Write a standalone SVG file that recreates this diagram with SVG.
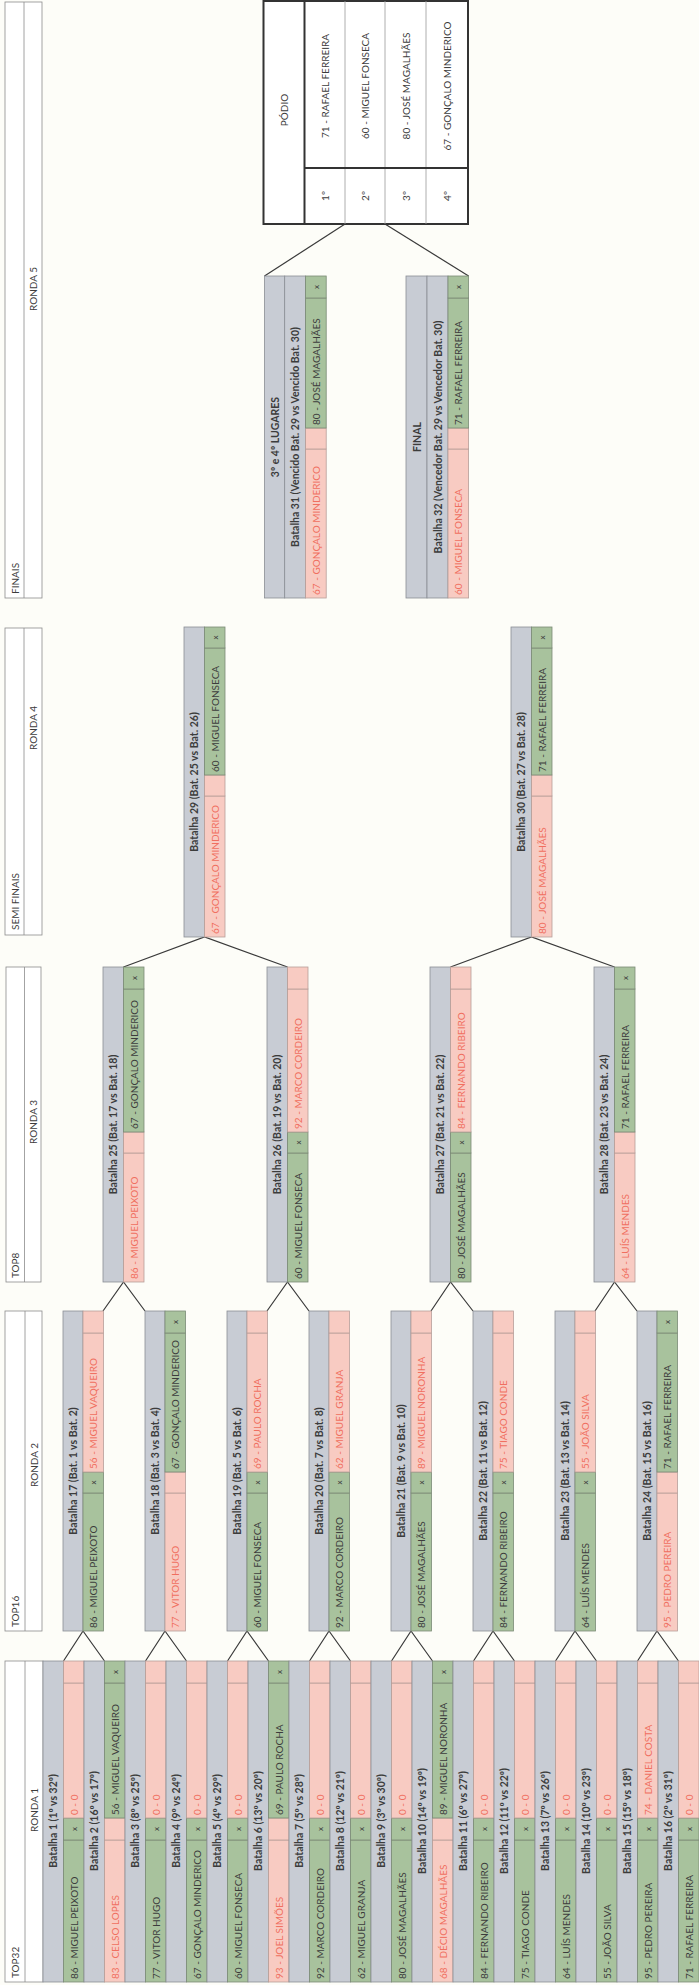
<svg xmlns="http://www.w3.org/2000/svg" width="699" height="1985" viewBox="0 0 699 1985">
<style>
.g{fill:#c8ccd4;stroke:#8a8e95;stroke-width:.8}
.w{fill:#a8c29d;stroke:#7b8b76;stroke-width:.8}
.l{fill:#f8cbc2;stroke:#b79e99;stroke-width:.8}
.h{fill:#fff;stroke:#8c8c8c;stroke-width:.8}
text{font-family:Lato,"Open Sans","Liberation Sans",sans-serif;dominant-baseline:central}
.t{font-size:10.5px;font-weight:bold;fill:#3c3c3c;text-anchor:middle}
.n{font-size:10px;fill:#3c3c3c}
.nl{font-size:10px;fill:#f06f5f}
.x{font-size:8px;fill:#3c3c3c;text-anchor:middle}
.hd{font-size:10px;fill:#3c3c3c}
.hm{font-size:10px;fill:#3c3c3c;text-anchor:middle}
.c{fill:none;stroke:#3a3a3a;stroke-width:1.2}
.pb{fill:#fff;stroke:#333;stroke-width:2}
.pt{stroke:#333;stroke-width:2}
.pf{stroke:#999;stroke-width:.8}
.pn{font-size:10px;fill:#3c3c3c;text-anchor:middle}
</style>
<rect x="0" y="0" width="699" height="1985" fill="#fdfdf8"/>

<g id="connectors">
<path class="c" d="M63.5 1661L83 1631L104.5 1661"/>
<path class="c" d="M145.5 1661L165 1631L186.5 1661"/>
<path class="c" d="M227.5 1661L247 1631L268.5 1661"/>
<path class="c" d="M309.5 1661L329 1631L350.5 1661"/>
<path class="c" d="M391.5 1661L411 1631L432.5 1661"/>
<path class="c" d="M473.5 1661L493 1631L514.5 1661"/>
<path class="c" d="M555.5 1661L575 1631L596.5 1661"/>
<path class="c" d="M637.5 1661L657 1631L678.5 1661"/>
<path class="c" d="M103 1311L123.5 1282L145 1311"/>
<path class="c" d="M267 1311L287.5 1282L309 1311"/>
<path class="c" d="M431 1311L450.5 1282L473 1311"/>
<path class="c" d="M595 1311L614.5 1282L637 1311"/>
<path class="c" d="M123.5 967L204.5 937L287.5 967"/>
<path class="c" d="M450.5 967L531.5 937L614.5 967"/>
<path class="c" d="M264.5 276L345 224"/>
<path class="c" d="M385 224L468.6 276"/>
</g>

<g id="hdr-r1">
<rect class="h" x="5" y="1661" width="38" height="321"/>
<line class="h" x1="25" y1="1661" x2="25" y2="1982"/>
<text class="hd" transform="translate(15 1978) rotate(-90)">TOP32</text>
<text class="hm" transform="translate(34 1810) rotate(-90)">RONDA 1</text>
</g>
<g id="hdr-r2">
<rect class="h" x="5" y="1311" width="37" height="320"/>
<line class="h" x1="25" y1="1311" x2="25" y2="1631"/>
<text class="hd" transform="translate(15 1627) rotate(-90)">TOP16</text>
<text class="hm" transform="translate(33.5 1465) rotate(-90)">RONDA 2</text>
</g>
<g id="hdr-r3">
<rect class="h" x="6" y="967" width="35" height="315"/>
<line class="h" x1="24.5" y1="967" x2="24.5" y2="1282"/>
<text class="hd" transform="translate(15.25 1278) rotate(-90)">TOP8</text>
<text class="hm" transform="translate(32.75 1122) rotate(-90)">RONDA 3</text>
</g>
<g id="hdr-r4">
<rect class="h" x="5" y="628" width="37" height="307"/>
<line class="h" x1="24" y1="628" x2="24" y2="935"/>
<text class="hd" transform="translate(14.5 930) rotate(-90)">SEMI FINAIS</text>
<text class="hm" transform="translate(33 728) rotate(-90)">RONDA 4</text>
</g>
<g id="hdr-r5">
<rect class="h" x="5" y="2" width="37" height="596"/>
<line class="h" x1="24" y1="2" x2="24" y2="598"/>
<text class="hd" transform="translate(14.5 594) rotate(-90)">FINAIS</text>
<text class="hm" transform="translate(33 289) rotate(-90)">RONDA 5</text>
</g>

<!-- ROUND 1 -->
<g id="b1">
<rect class="g" x="43" y="1661" width="20.5" height="321"/>
<rect class="w" x="63.5" y="1840" width="20.5" height="142"/><rect class="w" x="63.5" y="1818" width="20.5" height="22"/>
<rect class="l" x="63.5" y="1683" width="20.5" height="135"/><rect class="l" x="63.5" y="1661" width="20.5" height="22"/>
<text class="t" transform="translate(53.25 1821) rotate(-90)">Batalha 1 (1º vs 32º)</text>
<text class="n" transform="translate(73.75 1979) rotate(-90)">86 - MIGUEL PEIXOTO</text>
<text class="x" transform="translate(73.75 1829) rotate(-90)">x</text>
<text class="nl" transform="translate(73.75 1815) rotate(-90)">0 - 0</text>
</g>
<g id="b2">
<rect class="g" x="84" y="1661" width="20.5" height="321"/>
<rect class="l" x="104.5" y="1840" width="20.5" height="142"/><rect class="l" x="104.5" y="1818" width="20.5" height="22"/>
<rect class="w" x="104.5" y="1683" width="20.5" height="135"/><rect class="w" x="104.5" y="1661" width="20.5" height="22"/>
<text class="t" transform="translate(94.25 1821) rotate(-90)">Batalha 2 (16º vs 17º)</text>
<text class="nl" transform="translate(114.75 1979) rotate(-90)">83 - CELSO LOPES</text>
<text class="n" transform="translate(114.75 1815) rotate(-90)">56 - MIGUEL VAQUEIRO</text>
<text class="x" transform="translate(114.75 1672) rotate(-90)">x</text>
</g>
<g id="b3">
<rect class="g" x="125" y="1661" width="20.5" height="321"/>
<rect class="w" x="145.5" y="1840" width="20.5" height="142"/><rect class="w" x="145.5" y="1818" width="20.5" height="22"/>
<rect class="l" x="145.5" y="1683" width="20.5" height="135"/><rect class="l" x="145.5" y="1661" width="20.5" height="22"/>
<text class="t" transform="translate(135.25 1821) rotate(-90)">Batalha 3 (8º vs 25º)</text>
<text class="n" transform="translate(155.75 1979) rotate(-90)">77 - VITOR HUGO</text>
<text class="x" transform="translate(155.75 1829) rotate(-90)">x</text>
<text class="nl" transform="translate(155.75 1815) rotate(-90)">0 - 0</text>
</g>
<g id="b4">
<rect class="g" x="166" y="1661" width="20.5" height="321"/>
<rect class="w" x="186.5" y="1840" width="20.5" height="142"/><rect class="w" x="186.5" y="1818" width="20.5" height="22"/>
<rect class="l" x="186.5" y="1683" width="20.5" height="135"/><rect class="l" x="186.5" y="1661" width="20.5" height="22"/>
<text class="t" transform="translate(176.25 1821) rotate(-90)">Batalha 4 (9º vs 24º)</text>
<text class="n" transform="translate(196.75 1979) rotate(-90)">67 - GONÇALO MINDERICO</text>
<text class="x" transform="translate(196.75 1829) rotate(-90)">x</text>
<text class="nl" transform="translate(196.75 1815) rotate(-90)">0 - 0</text>
</g>
<g id="b5">
<rect class="g" x="207" y="1661" width="20.5" height="321"/>
<rect class="w" x="227.5" y="1840" width="20.5" height="142"/><rect class="w" x="227.5" y="1818" width="20.5" height="22"/>
<rect class="l" x="227.5" y="1683" width="20.5" height="135"/><rect class="l" x="227.5" y="1661" width="20.5" height="22"/>
<text class="t" transform="translate(217.25 1821) rotate(-90)">Batalha 5 (4º vs 29º)</text>
<text class="n" transform="translate(237.75 1979) rotate(-90)">60 - MIGUEL FONSECA</text>
<text class="x" transform="translate(237.75 1829) rotate(-90)">x</text>
<text class="nl" transform="translate(237.75 1815) rotate(-90)">0 - 0</text>
</g>
<g id="b6">
<rect class="g" x="248" y="1661" width="20.5" height="321"/>
<rect class="l" x="268.5" y="1840" width="20.5" height="142"/><rect class="l" x="268.5" y="1818" width="20.5" height="22"/>
<rect class="w" x="268.5" y="1683" width="20.5" height="135"/><rect class="w" x="268.5" y="1661" width="20.5" height="22"/>
<text class="t" transform="translate(258.25 1821) rotate(-90)">Batalha 6 (13º vs 20º)</text>
<text class="nl" transform="translate(278.75 1979) rotate(-90)">93 - JOEL SIMÕES</text>
<text class="n" transform="translate(278.75 1815) rotate(-90)">69 - PAULO ROCHA</text>
<text class="x" transform="translate(278.75 1672) rotate(-90)">x</text>
</g>
<g id="b7">
<rect class="g" x="289" y="1661" width="20.5" height="321"/>
<rect class="w" x="309.5" y="1840" width="20.5" height="142"/><rect class="w" x="309.5" y="1818" width="20.5" height="22"/>
<rect class="l" x="309.5" y="1683" width="20.5" height="135"/><rect class="l" x="309.5" y="1661" width="20.5" height="22"/>
<text class="t" transform="translate(299.25 1821) rotate(-90)">Batalha 7 (5º vs 28º)</text>
<text class="n" transform="translate(319.75 1979) rotate(-90)">92 - MARCO CORDEIRO</text>
<text class="x" transform="translate(319.75 1829) rotate(-90)">x</text>
<text class="nl" transform="translate(319.75 1815) rotate(-90)">0 - 0</text>
</g>
<g id="b8">
<rect class="g" x="330" y="1661" width="20.5" height="321"/>
<rect class="w" x="350.5" y="1840" width="20.5" height="142"/><rect class="w" x="350.5" y="1818" width="20.5" height="22"/>
<rect class="l" x="350.5" y="1683" width="20.5" height="135"/><rect class="l" x="350.5" y="1661" width="20.5" height="22"/>
<text class="t" transform="translate(340.25 1821) rotate(-90)">Batalha 8 (12º vs 21º)</text>
<text class="n" transform="translate(360.75 1979) rotate(-90)">62 - MIGUEL GRANJA</text>
<text class="x" transform="translate(360.75 1829) rotate(-90)">x</text>
<text class="nl" transform="translate(360.75 1815) rotate(-90)">0 - 0</text>
</g>
<g id="b9">
<rect class="g" x="371" y="1661" width="20.5" height="321"/>
<rect class="w" x="391.5" y="1840" width="20.5" height="142"/><rect class="w" x="391.5" y="1818" width="20.5" height="22"/>
<rect class="l" x="391.5" y="1683" width="20.5" height="135"/><rect class="l" x="391.5" y="1661" width="20.5" height="22"/>
<text class="t" transform="translate(381.25 1821) rotate(-90)">Batalha 9 (3º vs 30º)</text>
<text class="n" transform="translate(401.75 1979) rotate(-90)">80 - JOSÉ MAGALHÃES</text>
<text class="x" transform="translate(401.75 1829) rotate(-90)">x</text>
<text class="nl" transform="translate(401.75 1815) rotate(-90)">0 - 0</text>
</g>
<g id="b10">
<rect class="g" x="412" y="1661" width="20.5" height="321"/>
<rect class="l" x="432.5" y="1840" width="20.5" height="142"/><rect class="l" x="432.5" y="1818" width="20.5" height="22"/>
<rect class="w" x="432.5" y="1683" width="20.5" height="135"/><rect class="w" x="432.5" y="1661" width="20.5" height="22"/>
<text class="t" transform="translate(422.25 1821) rotate(-90)">Batalha 10 (14º vs 19º)</text>
<text class="nl" transform="translate(442.75 1979) rotate(-90)">68 - DÉCIO MAGALHÃES</text>
<text class="n" transform="translate(442.75 1815) rotate(-90)">89 - MIGUEL NORONHA</text>
<text class="x" transform="translate(442.75 1672) rotate(-90)">x</text>
</g>
<g id="b11">
<rect class="g" x="453" y="1661" width="20.5" height="321"/>
<rect class="w" x="473.5" y="1840" width="20.5" height="142"/><rect class="w" x="473.5" y="1818" width="20.5" height="22"/>
<rect class="l" x="473.5" y="1683" width="20.5" height="135"/><rect class="l" x="473.5" y="1661" width="20.5" height="22"/>
<text class="t" transform="translate(463.25 1821) rotate(-90)">Batalha 11 (6º vs 27º)</text>
<text class="n" transform="translate(483.75 1979) rotate(-90)">84 - FERNANDO RIBEIRO</text>
<text class="x" transform="translate(483.75 1829) rotate(-90)">x</text>
<text class="nl" transform="translate(483.75 1815) rotate(-90)">0 - 0</text>
</g>
<g id="b12">
<rect class="g" x="494" y="1661" width="20.5" height="321"/>
<rect class="w" x="514.5" y="1840" width="20.5" height="142"/><rect class="w" x="514.5" y="1818" width="20.5" height="22"/>
<rect class="l" x="514.5" y="1683" width="20.5" height="135"/><rect class="l" x="514.5" y="1661" width="20.5" height="22"/>
<text class="t" transform="translate(504.25 1821) rotate(-90)">Batalha 12 (11º vs 22º)</text>
<text class="n" transform="translate(524.75 1979) rotate(-90)">75 - TIAGO CONDE</text>
<text class="x" transform="translate(524.75 1829) rotate(-90)">x</text>
<text class="nl" transform="translate(524.75 1815) rotate(-90)">0 - 0</text>
</g>
<g id="b13">
<rect class="g" x="535" y="1661" width="20.5" height="321"/>
<rect class="w" x="555.5" y="1840" width="20.5" height="142"/><rect class="w" x="555.5" y="1818" width="20.5" height="22"/>
<rect class="l" x="555.5" y="1683" width="20.5" height="135"/><rect class="l" x="555.5" y="1661" width="20.5" height="22"/>
<text class="t" transform="translate(545.25 1821) rotate(-90)">Batalha 13 (7º vs 26º)</text>
<text class="n" transform="translate(565.75 1979) rotate(-90)">64 - LUÍS MENDES</text>
<text class="x" transform="translate(565.75 1829) rotate(-90)">x</text>
<text class="nl" transform="translate(565.75 1815) rotate(-90)">0 - 0</text>
</g>
<g id="b14">
<rect class="g" x="576" y="1661" width="20.5" height="321"/>
<rect class="w" x="596.5" y="1840" width="20.5" height="142"/><rect class="w" x="596.5" y="1818" width="20.5" height="22"/>
<rect class="l" x="596.5" y="1683" width="20.5" height="135"/><rect class="l" x="596.5" y="1661" width="20.5" height="22"/>
<text class="t" transform="translate(586.25 1821) rotate(-90)">Batalha 14 (10º vs 23º)</text>
<text class="n" transform="translate(606.75 1979) rotate(-90)">55 - JOÃO SILVA</text>
<text class="x" transform="translate(606.75 1829) rotate(-90)">x</text>
<text class="nl" transform="translate(606.75 1815) rotate(-90)">0 - 0</text>
</g>
<g id="b15">
<rect class="g" x="617" y="1661" width="20.5" height="321"/>
<rect class="w" x="637.5" y="1840" width="20.5" height="142"/><rect class="w" x="637.5" y="1818" width="20.5" height="22"/>
<rect class="l" x="637.5" y="1683" width="20.5" height="135"/><rect class="l" x="637.5" y="1661" width="20.5" height="22"/>
<text class="t" transform="translate(627.25 1821) rotate(-90)">Batalha 15 (15º vs 18º)</text>
<text class="n" transform="translate(647.75 1979) rotate(-90)">95 - PEDRO PEREIRA</text>
<text class="x" transform="translate(647.75 1829) rotate(-90)">x</text>
<text class="nl" transform="translate(647.75 1815) rotate(-90)">74 - DANIEL COSTA</text>
</g>
<g id="b16">
<rect class="g" x="658" y="1661" width="20.5" height="321"/>
<rect class="w" x="678.5" y="1840" width="20.5" height="142"/><rect class="w" x="678.5" y="1818" width="20.5" height="22"/>
<rect class="l" x="678.5" y="1683" width="20.5" height="135"/><rect class="l" x="678.5" y="1661" width="20.5" height="22"/>
<text class="t" transform="translate(668.25 1821) rotate(-90)">Batalha 16 (2º vs 31º)</text>
<text class="n" transform="translate(688.75 1979) rotate(-90)">71 - RAFAEL FERREIRA</text>
<text class="x" transform="translate(688.75 1829) rotate(-90)">x</text>
<text class="nl" transform="translate(688.75 1815) rotate(-90)">0 - 0</text>
</g>

<!-- ROUND 2 -->
<g id="b17">
<rect class="g" x="63" y="1311" width="20" height="320"/>
<rect class="w" x="83" y="1493" width="20.5" height="138"/><rect class="w" x="83" y="1472" width="20.5" height="21"/>
<rect class="l" x="83" y="1333" width="20.5" height="139"/><rect class="l" x="83" y="1311" width="20.5" height="22"/>
<text class="t" transform="translate(73 1471) rotate(-90)">Batalha 17 (Bat. 1 vs Bat. 2)</text>
<text class="n" transform="translate(93.25 1628) rotate(-90)">86 - MIGUEL PEIXOTO</text>
<text class="x" transform="translate(93.25 1482.5) rotate(-90)">x</text>
<text class="nl" transform="translate(93.25 1469) rotate(-90)">56 - MIGUEL VAQUEIRO</text>
</g>
<g id="b18">
<rect class="g" x="145" y="1311" width="20" height="320"/>
<rect class="l" x="165" y="1493" width="20.5" height="138"/><rect class="l" x="165" y="1472" width="20.5" height="21"/>
<rect class="w" x="165" y="1333" width="20.5" height="139"/><rect class="w" x="165" y="1311" width="20.5" height="22"/>
<text class="t" transform="translate(155 1471) rotate(-90)">Batalha 18 (Bat. 3 vs Bat. 4)</text>
<text class="nl" transform="translate(175.25 1628) rotate(-90)">77 - VITOR HUGO</text>
<text class="n" transform="translate(175.25 1469) rotate(-90)">67 - GONÇALO MINDERICO</text>
<text class="x" transform="translate(175.25 1322) rotate(-90)">x</text>
</g>
<g id="b19">
<rect class="g" x="227" y="1311" width="20" height="320"/>
<rect class="w" x="247" y="1493" width="20.5" height="138"/><rect class="w" x="247" y="1472" width="20.5" height="21"/>
<rect class="l" x="247" y="1333" width="20.5" height="139"/><rect class="l" x="247" y="1311" width="20.5" height="22"/>
<text class="t" transform="translate(237 1471) rotate(-90)">Batalha 19 (Bat. 5 vs Bat. 6)</text>
<text class="n" transform="translate(257.25 1628) rotate(-90)">60 - MIGUEL FONSECA</text>
<text class="x" transform="translate(257.25 1482.5) rotate(-90)">x</text>
<text class="nl" transform="translate(257.25 1469) rotate(-90)">69 - PAULO ROCHA</text>
</g>
<g id="b20">
<rect class="g" x="309" y="1311" width="20" height="320"/>
<rect class="w" x="329" y="1493" width="20.5" height="138"/><rect class="w" x="329" y="1472" width="20.5" height="21"/>
<rect class="l" x="329" y="1333" width="20.5" height="139"/><rect class="l" x="329" y="1311" width="20.5" height="22"/>
<text class="t" transform="translate(319 1471) rotate(-90)">Batalha 20 (Bat. 7 vs Bat. 8)</text>
<text class="n" transform="translate(339.25 1628) rotate(-90)">92 - MARCO CORDEIRO</text>
<text class="x" transform="translate(339.25 1482.5) rotate(-90)">x</text>
<text class="nl" transform="translate(339.25 1469) rotate(-90)">62 - MIGUEL GRANJA</text>
</g>
<g id="b21">
<rect class="g" x="391" y="1311" width="20" height="320"/>
<rect class="w" x="411" y="1493" width="20.5" height="138"/><rect class="w" x="411" y="1472" width="20.5" height="21"/>
<rect class="l" x="411" y="1333" width="20.5" height="139"/><rect class="l" x="411" y="1311" width="20.5" height="22"/>
<text class="t" transform="translate(401 1471) rotate(-90)">Batalha 21 (Bat. 9 vs Bat. 10)</text>
<text class="n" transform="translate(421.25 1628) rotate(-90)">80 - JOSÉ MAGALHÃES</text>
<text class="x" transform="translate(421.25 1482.5) rotate(-90)">x</text>
<text class="nl" transform="translate(421.25 1469) rotate(-90)">89 - MIGUEL NORONHA</text>
</g>
<g id="b22">
<rect class="g" x="473" y="1311" width="20" height="320"/>
<rect class="w" x="493" y="1493" width="20.5" height="138"/><rect class="w" x="493" y="1472" width="20.5" height="21"/>
<rect class="l" x="493" y="1333" width="20.5" height="139"/><rect class="l" x="493" y="1311" width="20.5" height="22"/>
<text class="t" transform="translate(483 1471) rotate(-90)">Batalha 22 (Bat. 11 vs Bat. 12)</text>
<text class="n" transform="translate(503.25 1628) rotate(-90)">84 - FERNANDO RIBEIRO</text>
<text class="x" transform="translate(503.25 1482.5) rotate(-90)">x</text>
<text class="nl" transform="translate(503.25 1469) rotate(-90)">75 - TIAGO CONDE</text>
</g>
<g id="b23">
<rect class="g" x="555" y="1311" width="20" height="320"/>
<rect class="w" x="575" y="1493" width="20.5" height="138"/><rect class="w" x="575" y="1472" width="20.5" height="21"/>
<rect class="l" x="575" y="1333" width="20.5" height="139"/><rect class="l" x="575" y="1311" width="20.5" height="22"/>
<text class="t" transform="translate(565 1471) rotate(-90)">Batalha 23 (Bat. 13 vs Bat. 14)</text>
<text class="n" transform="translate(585.25 1628) rotate(-90)">64 - LUÍS MENDES</text>
<text class="x" transform="translate(585.25 1482.5) rotate(-90)">x</text>
<text class="nl" transform="translate(585.25 1469) rotate(-90)">55 - JOÃO SILVA</text>
</g>
<g id="b24">
<rect class="g" x="637" y="1311" width="20" height="320"/>
<rect class="l" x="657" y="1493" width="20.5" height="138"/><rect class="l" x="657" y="1472" width="20.5" height="21"/>
<rect class="w" x="657" y="1333" width="20.5" height="139"/><rect class="w" x="657" y="1311" width="20.5" height="22"/>
<text class="t" transform="translate(647 1471) rotate(-90)">Batalha 24 (Bat. 15 vs Bat. 16)</text>
<text class="nl" transform="translate(667.25 1628) rotate(-90)">95 - PEDRO PEREIRA</text>
<text class="n" transform="translate(667.25 1469) rotate(-90)">71 - RAFAEL FERREIRA</text>
<text class="x" transform="translate(667.25 1322) rotate(-90)">x</text>
</g>

<!-- ROUND 3 -->
<g id="b25">
<rect class="g" x="103" y="967" width="20.5" height="315"/>
<rect class="l" x="123.5" y="1153" width="20.5" height="129"/><rect class="l" x="123.5" y="1132" width="20.5" height="21"/>
<rect class="w" x="123.5" y="989" width="20.5" height="143"/><rect class="w" x="123.5" y="967" width="20.5" height="22"/>
<text class="t" transform="translate(113.25 1124.5) rotate(-90)">Batalha 25 (Bat. 17 vs Bat. 18)</text>
<text class="nl" transform="translate(133.75 1279) rotate(-90)">86 - MIGUEL PEIXOTO</text>
<text class="n" transform="translate(133.75 1129) rotate(-90)">67 - GONÇALO MINDERICO</text>
<text class="x" transform="translate(133.75 978) rotate(-90)">x</text>
</g>
<g id="b26">
<rect class="g" x="267" y="967" width="20.5" height="315"/>
<rect class="w" x="287.5" y="1153" width="20.5" height="129"/><rect class="w" x="287.5" y="1132" width="20.5" height="21"/>
<rect class="l" x="287.5" y="989" width="20.5" height="143"/><rect class="l" x="287.5" y="967" width="20.5" height="22"/>
<text class="t" transform="translate(277.25 1124.5) rotate(-90)">Batalha 26 (Bat. 19 vs Bat. 20)</text>
<text class="n" transform="translate(297.75 1279) rotate(-90)">60 - MIGUEL FONSECA</text>
<text class="x" transform="translate(297.75 1142.5) rotate(-90)">x</text>
<text class="nl" transform="translate(297.75 1129) rotate(-90)">92 - MARCO CORDEIRO</text>
</g>
<g id="b27">
<rect class="g" x="430" y="967" width="20.5" height="315"/>
<rect class="w" x="450.5" y="1153" width="20.5" height="129"/><rect class="w" x="450.5" y="1132" width="20.5" height="21"/>
<rect class="l" x="450.5" y="989" width="20.5" height="143"/><rect class="l" x="450.5" y="967" width="20.5" height="22"/>
<text class="t" transform="translate(440.25 1124.5) rotate(-90)">Batalha 27 (Bat. 21 vs Bat. 22)</text>
<text class="n" transform="translate(460.75 1279) rotate(-90)">80 - JOSÉ MAGALHÃES</text>
<text class="x" transform="translate(460.75 1142.5) rotate(-90)">x</text>
<text class="nl" transform="translate(460.75 1129) rotate(-90)">84 - FERNANDO RIBEIRO</text>
</g>
<g id="b28">
<rect class="g" x="594" y="967" width="20.5" height="315"/>
<rect class="l" x="614.5" y="1153" width="20.5" height="129"/><rect class="l" x="614.5" y="1132" width="20.5" height="21"/>
<rect class="w" x="614.5" y="989" width="20.5" height="143"/><rect class="w" x="614.5" y="967" width="20.5" height="22"/>
<text class="t" transform="translate(604.25 1124.5) rotate(-90)">Batalha 28 (Bat. 23 vs Bat. 24)</text>
<text class="nl" transform="translate(624.75 1279) rotate(-90)">64 - LUÍS MENDES</text>
<text class="n" transform="translate(624.75 1129) rotate(-90)">71 - RAFAEL FERREIRA</text>
<text class="x" transform="translate(624.75 978) rotate(-90)">x</text>
</g>

<!-- ROUND 4 -->
<g id="b29">
<rect class="g" x="184" y="627" width="20.5" height="310"/>
<rect class="l" x="204.5" y="796" width="20.5" height="141"/><rect class="l" x="204.5" y="775" width="20.5" height="21"/>
<rect class="w" x="204.5" y="648" width="20.5" height="127"/><rect class="w" x="204.5" y="627" width="20.5" height="21"/>
<text class="t" transform="translate(194.25 782) rotate(-90)">Batalha 29 (Bat. 25 vs Bat. 26)</text>
<text class="nl" transform="translate(214.75 934) rotate(-90)">67 - GONÇALO MINDERICO</text>
<text class="n" transform="translate(214.75 772) rotate(-90)">60 - MIGUEL FONSECA</text>
<text class="x" transform="translate(214.75 637.5) rotate(-90)">x</text>
</g>
<g id="b30">
<rect class="g" x="511" y="627" width="20.5" height="310"/>
<rect class="l" x="531.5" y="796" width="20.5" height="141"/><rect class="l" x="531.5" y="775" width="20.5" height="21"/>
<rect class="w" x="531.5" y="648" width="20.5" height="127"/><rect class="w" x="531.5" y="627" width="20.5" height="21"/>
<text class="t" transform="translate(521.25 782) rotate(-90)">Batalha 30 (Bat. 27 vs Bat. 28)</text>
<text class="nl" transform="translate(541.75 934) rotate(-90)">80 - JOSÉ MAGALHÃES</text>
<text class="n" transform="translate(541.75 772) rotate(-90)">71 - RAFAEL FERREIRA</text>
<text class="x" transform="translate(541.75 637.5) rotate(-90)">x</text>
</g>

<!-- ROUND 5 -->
<g id="b31">
<rect class="g" x="264.5" y="276" width="20.2" height="322"/>
<rect class="g" x="284.7" y="276" width="20.9" height="322"/>
<rect class="l" x="305.6" y="449" width="20.6" height="149"/><rect class="l" x="305.6" y="428" width="20.6" height="21"/>
<rect class="w" x="305.6" y="298" width="20.6" height="130"/><rect class="w" x="305.6" y="276" width="20.6" height="22"/>
<text class="t" transform="translate(274.6 437) rotate(-90)">3º e 4º LUGARES</text>
<text class="t" transform="translate(295.15 437) rotate(-90)">Batalha 31 (Vencido Bat. 29 vs Vencido Bat. 30)</text>
<text class="nl" transform="translate(315.9 595) rotate(-90)">67 - GONÇALO MINDERICO</text>
<text class="n" transform="translate(315.9 425) rotate(-90)">80 - JOSÉ MAGALHÃES</text>
<text class="x" transform="translate(315.9 287) rotate(-90)">x</text>
</g>
<g id="b32">
<rect class="g" x="406" y="276" width="21" height="322"/>
<rect class="g" x="427" y="276" width="21" height="322"/>
<rect class="l" x="448" y="449" width="20.6" height="149"/><rect class="l" x="448" y="428" width="20.6" height="21"/>
<rect class="w" x="448" y="298" width="20.6" height="130"/><rect class="w" x="448" y="276" width="20.6" height="22"/>
<text class="t" transform="translate(416.5 437) rotate(-90)">FINAL</text>
<text class="t" transform="translate(437.5 437) rotate(-90)">Batalha 32 (Vencedor Bat. 29 vs Vencedor Bat. 30)</text>
<text class="nl" transform="translate(458.3 595) rotate(-90)">60 - MIGUEL FONSECA</text>
<text class="n" transform="translate(458.3 425) rotate(-90)">71 - RAFAEL FERREIRA</text>
<text class="x" transform="translate(458.3 287) rotate(-90)">x</text>
</g>

<!-- PODIUM -->
<g id="podium">
<rect class="pb" x="263.5" y="1" width="204.5" height="223"/>
<line class="pf" x1="345" y1="1" x2="345" y2="224"/>
<line class="pf" x1="385" y1="1" x2="385" y2="224"/>
<line class="pf" x1="426" y1="1" x2="426" y2="224"/>
<line class="pt" x1="304.5" y1="1" x2="304.5" y2="224"/>
<line class="pt" x1="304.5" y1="168" x2="468" y2="168"/>
<text class="pn" transform="translate(284 110) rotate(-90)">PÓDIO</text>
<text class="pn" transform="translate(324.75 86) rotate(-90)">71 - RAFAEL FERREIRA</text>
<text class="pn" transform="translate(365 86) rotate(-90)">60 - MIGUEL FONSECA</text>
<text class="pn" transform="translate(405.5 86) rotate(-90)">80 - JOSÉ MAGALHÃES</text>
<text class="pn" transform="translate(447 86) rotate(-90)">67 - GONÇALO MINDERICO</text>
<text class="pn" transform="translate(324.75 196) rotate(-90)">1º</text>
<text class="pn" transform="translate(365 196) rotate(-90)">2º</text>
<text class="pn" transform="translate(405.5 196) rotate(-90)">3º</text>
<text class="pn" transform="translate(447 196) rotate(-90)">4º</text>
</g>
</svg>
